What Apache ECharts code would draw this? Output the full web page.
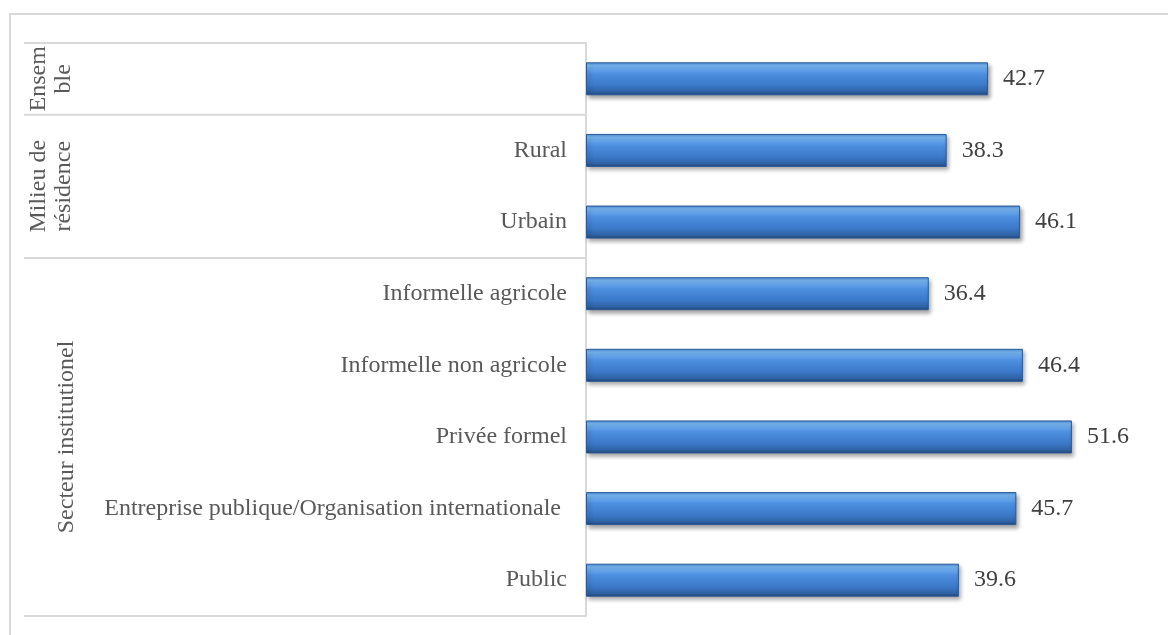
<!DOCTYPE html>
<html>
<head>
<meta charset="utf-8">
<script src="https://cdn.jsdelivr.net/npm/echarts@6/dist/echarts.min.js"></script>
<style>
  html, body { margin: 0; padding: 0; background: #fff; }
  #chart { width: 1168px; height: 635px; }
</style>
</head>
<body>
<div id="chart"></div>
<script>
// categories, top to bottom
var categories = [
  '',
  'Rural',
  'Urbain',
  'Informelle agricole',
  'Informelle non agricole',
  'Privée formel',
  'Entreprise publique/Organisation internationale ',
  'Public'
]
var values = [42.7, 38.3, 46.1, 36.4, 46.4, 51.6, 45.7, 39.6]
// group labels and how many categories each covers
var groupNames = ['Ensem\nble', 'Milieu de\nrésidence', 'Secteur institutionel']
var groupSizes = [1, 2, 5]

var FONT = '"Liberation Serif", "Times New Roman", serif'
var LINE = '#d9d9d9'

const myChart = echarts.init(document.getElementById('chart'))

myChart.setOption({
  animation: false,
  grid: {
    left: 586,
    right: 17,
    top: 43,
    bottom: 19
  },
  xAxis: {
    type: 'value',
    min: 0,
    max: 60,
    show: false
  },
  yAxis: {
    type: 'category',
    inverse: true,
    data: categories,
    axisLine: { show: true, lineStyle: { color: LINE, width: 2 } },
    axisTick: { show: false },
    splitLine: { show: false },
    axisLabel: {
      margin: 19,
      color: '#595959',
      fontFamily: FONT,
      fontSize: 24
    }
  },
  series: [
    {
      type: 'bar',
      data: values,
      barWidth: 33,
      itemStyle: {
        color: {
          type: 'linear',
          x: 0, y: 0, x2: 0, y2: 1,
          colorStops: [
            { offset: 0, color: '#4a8ad8' },
            { offset: 0.1, color: '#7ab8f5' },
            { offset: 0.35, color: '#4d8fe0' },
            { offset: 0.7, color: '#3b78c8' },
            { offset: 0.9, color: '#2f62a4' },
            { offset: 1, color: '#1f4272' }
          ]
        },
        borderColor: '#2c5a96',
        borderWidth: 1,
        shadowColor: 'rgba(0,0,0,0.35)',
        shadowBlur: 4,
        shadowOffsetX: 2,
        shadowOffsetY: 3
      },
      label: {
        show: true,
        position: 'right',
        distance: 15,
        color: '#404040',
        fontFamily: FONT,
        fontSize: 24,
        formatter: function (p) {
          return p.value.toFixed(1)
        }
      }
    }
  ]
})

// separators and group labels, placed from the category axis scale
function drawGroups () {
  const y0 = myChart.convertToPixel({ yAxisIndex: 0 }, categories[0])
  const y1 = myChart.convertToPixel({ yAxisIndex: 0 }, categories[1])
  const step = y1 - y0
  const axisX = myChart.convertToPixel({ xAxisIndex: 0 }, 0)
  const elements = [
    {
      type: 'rect',
      shape: { x: 10, y: 14, width: 1300, height: 800 },
      style: { fill: 'none', stroke: LINE, lineWidth: 2 },
      silent: true
    }
  ]
  let start = 0
  const bounds = [y0 - step / 2]
  groupSizes.forEach(function (n, i) {
    const top = y0 + (start - 0.5) * step
    const bottom = y0 + (start + n - 0.5) * step
    bounds.push(bottom)
    elements.push({
      type: 'text',
      x: n > 2 ? 79 : 76,
      y: (top + bottom) / 2,
      rotation: Math.PI / 2,
      style: {
        text: groupNames[i],
        fill: '#595959',
        font: '24px ' + FONT,
        lineHeight: 25,
        align: 'center',
        verticalAlign: 'bottom'
      },
      silent: true
    })
    start += n
  })
  bounds.forEach(function (b) {
    elements.push({
      type: 'line',
      shape: { x1: 24, y1: b, x2: axisX, y2: b },
      style: { stroke: LINE, lineWidth: 2 },
      silent: true
    })
  })
  myChart.setOption({ graphic: elements })
}
drawGroups()
</script>
</body>
</html>
